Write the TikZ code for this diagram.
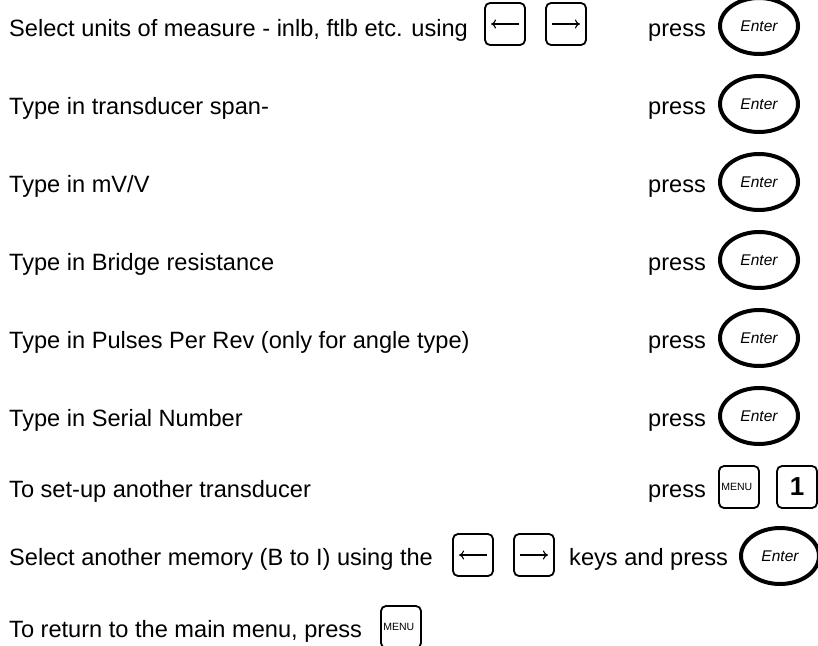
\documentclass[tikz,border=0pt]{standalone}
\usepackage{fontspec}
\setmainfont{Liberation Sans}
\usetikzlibrary{shapes.geometric,arrows.meta}
\tikzset{
  lbl/.style={anchor=base west, inner sep=0pt, font=\fontsize{23.6}{28}\selectfont},
  enterkey/.style={ellipse, draw, line width=4pt, minimum width=78pt, minimum height=56pt, inner sep=0pt, font=\fontsize{15.5}{17}\selectfont\itshape},
  keybox/.style={draw, line width=1.8pt, rounded corners=5pt, minimum width=40pt, minimum height=42pt, inner sep=0pt},
  keyarrow/.style={line width=1.1pt, -{To[length=5pt,width=9pt]}},
  menutxt/.style={anchor=west, inner sep=0pt, font=\fontsize{10.5}{11}\selectfont},
  onetxt/.style={font=\fontsize{26}{28}\selectfont\bfseries},
}
\begin{document}
\begin{tikzpicture}[x=1pt,y=-1pt]
\useasboundingbox (0,0) rectangle (818,645);
% row 1
\node[lbl] (t1) at (9,36) {Select units of measure - inlb, ftlb etc. using};
\node[keybox] (l1) at (505,24) {};
\node[keybox] (r1) at (566,24) {};
\draw[keyarrow] ([xshift=-7pt]l1.east) -- ([xshift=7pt]l1.west);
\draw[keyarrow] ([xshift=7pt]r1.west) -- ([xshift=-7pt]r1.east);
\node[lbl] (p1) at (648,36) {press};
\node[enterkey] (e1) at (759,26) {Enter};
% row 2
\node[lbl] (t2) at (9,114) {Type in transducer span-};
\node[lbl] (p2) at (648,114) {press};
\node[enterkey] (e2) at (759,104) {Enter};
% row 3
\node[lbl] (t3) at (9,192) {Type in mV/V};
\node[lbl] (p3) at (648,192) {press};
\node[enterkey] (e3) at (759,182) {Enter};
% row 4
\node[lbl] (t4) at (9,270) {Type in Bridge resistance};
\node[lbl] (p4) at (648,270) {press};
\node[enterkey] (e4) at (759,260) {Enter};
% row 5
\node[lbl] (t5) at (9,348) {Type in Pulses Per Rev (only for angle type)};
\node[lbl] (p5) at (648,348) {press};
\node[enterkey] (e5) at (759,338) {Enter};
% row 6
\node[lbl] (t6) at (9,426) {Type in Serial Number};
\node[lbl] (p6) at (648,426) {press};
\node[enterkey] (e6) at (759,416) {Enter};
% row 7
\node[lbl] (t7) at (9,497) {To set-up another transducer};
\node[lbl] (p7) at (648,497) {press};
\node[keybox] (m7) at (739,487) {};
\node[menutxt] (m7t) at ([xshift=3pt]m7.west) {MENU};
\node[keybox, onetxt] (k7) at (797,487) {1};
% row 8
\node[lbl] (t8) at (9,565) {Select another memory (B to I) using the};
\node[keybox] (l8) at (473,555) {};
\node[keybox] (r8) at (534,555) {};
\draw[keyarrow] ([xshift=-7pt]l8.east) -- ([xshift=7pt]l8.west);
\draw[keyarrow] ([xshift=7pt]r8.west) -- ([xshift=-7pt]r8.east);
\node[lbl] (p8) at (569,565) {keys and press};
\node[enterkey] (e8) at (780,556) {Enter};
% row 9
\node[lbl] (t9) at (9,637) {To return to the main menu, press};
\node[keybox] (m9) at (401,627) {};
\node[menutxt] (m9t) at ([xshift=3pt]m9.west) {MENU};
\end{tikzpicture}
\end{document}
